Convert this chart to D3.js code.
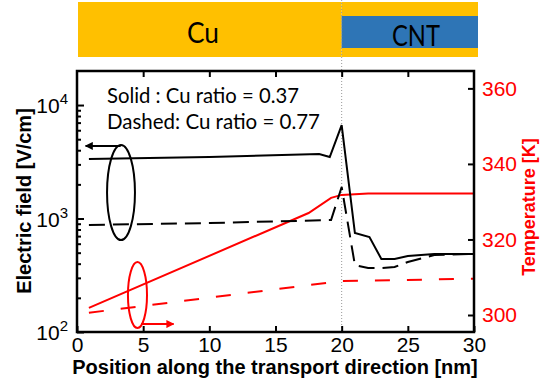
<!DOCTYPE html>
<html>
<head>
<meta charset="utf-8">
<script src="https://cdn.jsdelivr.net/npm/d3@7"></script>
<style>
body { margin: 0; background: #fff; }
svg { display: block; }
text { font-family: "Liberation Sans", Arial, sans-serif; }
.calib { font-family: Lato, "Open Sans", sans-serif; }
</style>
</head>
<body>
<svg id="chart" width="552" height="388"></svg>
<script>
// tick labels
var xTicks = [0, 5, 10, 15, 20, 25, 30];
var tempTicks = [300, 320, 340, 360];
var fieldDecades = [2, 3, 4];

// electric field, Cu ratio 0.37 (solid) and 0.77 (dashed)
var solidFieldX = [0.9, 10, 18.3, 19.1, 20, 21, 22.1, 23, 24, 25, 27, 30];
var solidFieldY = [3350, 3480, 3700, 3480, 6660, 745, 687, 440, 440, 467, 487, 487];
var dashedFieldX = [0.9, 10, 19.2, 20, 21, 22, 23, 24, 25, 27, 30];
var dashedFieldY = [877, 912, 970, 1895, 389, 366, 366, 374, 414, 477, 487];

// temperature
var solidTempX = [0.9, 17.5, 19.2, 20, 22, 30];
var solidTempY = [301.9, 327.0, 331.0, 331.8, 332.2, 332.2];
var dashedTempX = [0.9, 20, 30];
var dashedTempY = [300.6, 309.0, 309.6];

var svg = d3.select("#chart");
var plotL = 77, plotR = 474, plotT = 71, plotB = 332;

var xScale = d3.scaleLinear().domain([0, 30]).range([plotL, plotR]);
var yField = d3.scaleLog().domain([100, Math.pow(10, 4.3)]).range([plotB, plotT]);
var yTemp = d3.scaleLinear().domain([295.5, 364.6]).range([plotB, plotT]);

// material bar on top
svg.append("rect").attr("x", 78).attr("y", 2)
  .attr("width", xScale(20) - 78).attr("height", 55).attr("fill", "#FFC000");
svg.append("rect").attr("x", xScale(20)).attr("y", 2)
  .attr("width", 478 - xScale(20)).attr("height", 55).attr("fill", "#FFC000");
svg.append("rect").attr("x", xScale(20)).attr("y", 16)
  .attr("width", 478 - xScale(20)).attr("height", 32).attr("fill", "#2E75B6");
svg.append("text").attr("class", "calib").attr("x", 187).attr("y", 43)
  .attr("font-size", 29).attr("textLength", 32).attr("lengthAdjust", "spacingAndGlyphs")
  .text("Cu");
svg.append("text").attr("class", "calib").attr("x", 392).attr("y", 46)
  .attr("font-size", 29).attr("textLength", 48).attr("lengthAdjust", "spacingAndGlyphs")
  .text("CNT");

// dotted interface line
svg.append("line")
  .attr("x1", xScale(20)).attr("x2", xScale(20))
  .attr("y1", 0).attr("y2", plotB)
  .attr("stroke", "#999").attr("stroke-width", 1)
  .attr("stroke-dasharray", "1,2");

var buildLine = function(xs, ys, yScale) {
  var pts = xs.map(function(x, i) { return [x, ys[i]]; });
  return d3.line()
    .x(function(d) { return xScale(d[0]); })
    .y(function(d) { return yScale(d[1]); })(pts);
};

svg.append("path").attr("d", buildLine(solidTempX, solidTempY, yTemp))
  .attr("fill", "none").attr("stroke", "#FF0000").attr("stroke-width", 2);
svg.append("path").attr("d", buildLine(dashedTempX, dashedTempY, yTemp))
  .attr("fill", "none").attr("stroke", "#FF0000").attr("stroke-width", 2)
  .attr("stroke-dasharray", "15,17");
svg.append("path").attr("d", buildLine(solidFieldX, solidFieldY, yField))
  .attr("fill", "none").attr("stroke", "black").attr("stroke-width", 2)
  .attr("stroke-linejoin", "miter");
svg.append("path").attr("d", buildLine(dashedFieldX, dashedFieldY, yField))
  .attr("fill", "none").attr("stroke", "black").attr("stroke-width", 2)
  .attr("stroke-dasharray", "16,8");

// ellipses + arrows pointing at each axis
var defs = svg.append("defs");
["black", "red"].forEach(function(c) {
  defs.append("marker").attr("id", "arr-" + c)
    .attr("viewBox", "0 0 10 10").attr("refX", 9).attr("refY", 5)
    .attr("markerWidth", 4).attr("markerHeight", 4).attr("orient", "auto")
    .append("path").attr("d", "M0,0 L10,5 L0,10 z")
    .attr("fill", c == "red" ? "#FF0000" : "black");
});

svg.append("ellipse")
  .attr("cx", (xScale(2.27) + xScale(4.38)) / 2)
  .attr("cy", (yField(4450) + yField(646)) / 2)
  .attr("rx", (xScale(4.38) - xScale(2.27)) / 2)
  .attr("ry", (yField(646) - yField(4450)) / 2)
  .attr("fill", "none").attr("stroke", "black").attr("stroke-width", 2);
svg.append("line")
  .attr("x1", xScale(3.3)).attr("y1", yField(4360))
  .attr("x2", xScale(0.65)).attr("y2", yField(4360))
  .attr("stroke", "black").attr("stroke-width", 2)
  .attr("marker-end", "url(#arr-black)");

svg.append("ellipse")
  .attr("cx", (xScale(3.85) + xScale(5.29)) / 2)
  .attr("cy", (yTemp(314.0) + yTemp(296.56)) / 2)
  .attr("rx", (xScale(5.29) - xScale(3.85)) / 2)
  .attr("ry", (yTemp(296.56) - yTemp(314.0)) / 2)
  .attr("fill", "none").attr("stroke", "#FF0000").attr("stroke-width", 2);
svg.append("line")
  .attr("x1", xScale(4.84)).attr("y1", yTemp(297.6))
  .attr("x2", xScale(7.3)).attr("y2", yTemp(297.6))
  .attr("stroke", "#FF0000").attr("stroke-width", 2)
  .attr("marker-end", "url(#arr-red)");

// legend text
svg.append("text").attr("class", "calib").attr("x", 107).attr("y", 103)
  .attr("font-size", 21).attr("textLength", 192).attr("lengthAdjust", "spacingAndGlyphs")
  .text("Solid : Cu ratio = 0.37");
svg.append("text").attr("class", "calib").attr("x", 107).attr("y", 129)
  .attr("font-size", 21).attr("textLength", 213).attr("lengthAdjust", "spacingAndGlyphs")
  .text("Dashed: Cu ratio = 0.77");

// axes
var xAxis = svg.append("g").attr("transform", "translate(0," + plotB + ")")
  .call(d3.axisBottom(xScale).tickValues(xTicks).tickSize(-6).tickPadding(5));
xAxis.selectAll("text").attr("font-size", 21).attr("fill", "black")
  .style("font-family", "'Liberation Sans', Arial, sans-serif");

svg.append("g").attr("transform", "translate(0," + plotT + ")")
  .call(d3.axisTop(xScale).tickValues(xTicks.slice(1, -1)).tickSize(-6).tickFormat(""));

var minor = [];
fieldDecades.forEach(function(p) {
  for (var m = 2; m <= 9; m++) {
    var v = m * Math.pow(10, p);
    if (v < yField.domain()[1]) minor.push(v);
  }
});
svg.append("g").attr("transform", "translate(" + plotL + ",0)")
  .call(d3.axisLeft(yField).tickValues(minor).tickSize(-4).tickFormat(""));
svg.append("g").attr("transform", "translate(" + plotL + ",0)")
  .call(d3.axisLeft(yField).tickValues(fieldDecades.map(function(p) { return Math.pow(10, p); }))
    .tickSize(-7).tickFormat(""));

fieldDecades.forEach(function(p) {
  var t = svg.append("text")
    .attr("x", 68).attr("y", yField(Math.pow(10, p)) + 8)
    .attr("text-anchor", "end").attr("font-size", 21).attr("fill", "black");
  t.append("tspan").text("10");
  t.append("tspan").attr("font-size", 15).attr("dy", -9).text(p);
});

var yAxisR = svg.append("g").attr("transform", "translate(" + plotR + ",0)")
  .call(d3.axisRight(yTemp).tickValues(tempTicks).tickSize(-6).tickPadding(8));
yAxisR.selectAll("text").attr("font-size", 21).attr("fill", "#FF0000")
  .style("font-family", "'Liberation Sans', Arial, sans-serif");

svg.selectAll(".domain").remove();
svg.selectAll(".tick line").attr("stroke", "black").attr("stroke-width", 2);

// frame
svg.append("rect").attr("x", plotL).attr("y", plotT)
  .attr("width", plotR - plotL).attr("height", plotB - plotT)
  .attr("fill", "none").attr("stroke", "black").attr("stroke-width", 2.5);

// axis titles
svg.append("text").attr("x", 275).attr("y", 374)
  .attr("text-anchor", "middle").attr("font-size", 20).attr("font-weight", "bold")
  .text("Position along the transport direction [nm]");
svg.append("text").attr("transform", "translate(31,201) rotate(-90)")
  .attr("text-anchor", "middle").attr("font-size", 20).attr("font-weight", "bold")
  .text("Electric field [V/cm]");
svg.append("text").attr("transform", "translate(535,207) rotate(-90)")
  .attr("text-anchor", "middle").attr("font-size", 18).attr("font-weight", "bold")
  .attr("fill", "#FF0000")
  .text("Temperature [K]");
</script>
</body>
</html>
